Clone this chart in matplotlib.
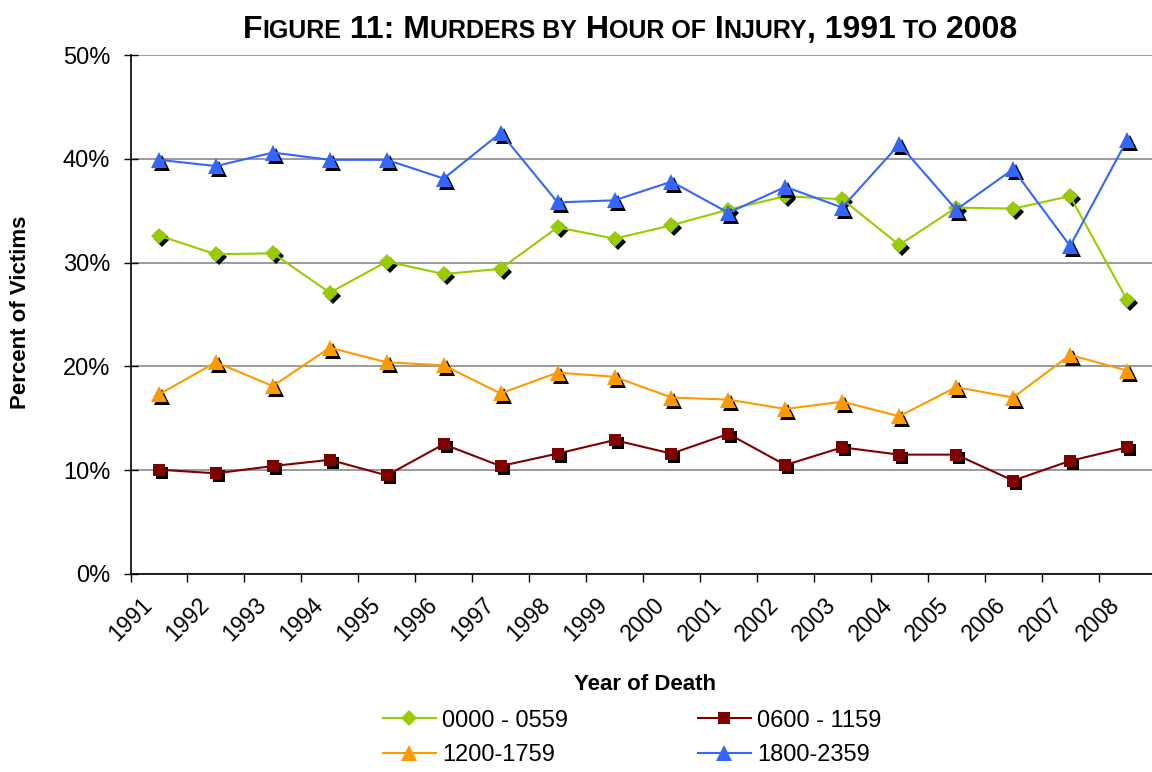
"""Figure 11: murders by hour of injury, 1991 to 2008."""

import matplotlib
matplotlib.use("Agg")
import matplotlib.pyplot as plt
from matplotlib import font_manager
from matplotlib.ticker import FuncFormatter, FixedLocator
from matplotlib.transforms import offset_copy


YEARS = [str(y) for y in range(1991, 2009)]
LABELS = ["0000 - 0559", "0600 - 1159", "1200-1759", "1800-2359"]
EARLY = [32.6, 30.8, 30.9, 27.1, 30.1, 28.9, 29.4, 33.4, 32.3, 33.6, 35.1, 36.4, 36.1, 31.7, 35.3, 35.2, 36.4, 26.4]
MORNING = [10.05, 9.7, 10.4, 11.0, 9.5, 12.5, 10.4, 11.6, 12.9, 11.6, 13.5, 10.5, 12.2, 11.5, 11.5, 9.0, 10.9, 12.2]
AFTERNOON = [17.3, 20.4, 18.1, 21.8, 20.4, 20.1, 17.4, 19.4, 19.0, 17.0, 16.8, 15.9, 16.6, 15.2, 18.0, 17.0, 21.1, 19.6]
EVENING = [39.9, 39.3, 40.6, 39.9, 39.9, 38.1, 42.5, 35.8, 36.0, 37.8, 34.8, 37.3, 35.3, 41.4, 35.1, 39.0, 31.6, 41.8]
Y_TICKS = [0, 10, 20, 30, 40, 50]

SERIES = [
    (EARLY, "#99CC00", "D", 8.0),
    (MORNING, "#800000", "s", 8.8),
    (AFTERNOON, "#FF9900", "^", 11.5),
    (EVENING, "#3366FF", "^", 11.5),
]

BASE_FONT = "Liberation Sans"
available = {f.name for f in font_manager.fontManager.ttflist}
TITLE_FONT = "Liberation Sans Narrow" if "Liberation Sans Narrow" in available else BASE_FONT

plt.rcParams["font.family"] = [BASE_FONT, "DejaVu Sans"]


def small_caps_title(fig, pieces, y, big, small):
    renderer = fig.canvas.get_renderer()
    texts = []
    for txt, is_big in pieces:
        t = fig.text(0, y, txt, fontsize=big if is_big else small, fontweight="bold",
                     family=TITLE_FONT, ha="left", va="baseline")
        texts.append(t)
    widths = [t.get_window_extent(renderer).width for t in texts]
    total = sum(widths)
    fig_w = fig.get_figwidth() * fig.dpi
    x = 630 - total / 2
    for t, w in zip(texts, widths):
        t.set_x(x / fig_w)
        x += w


def main() -> None:
    fig = plt.figure(figsize=(11.52, 7.72), dpi=100)
    ax = fig.add_axes([130.5 / 1152, 1 - 574 / 772, 1025 / 1152, 519 / 772])
    xs = [i + 0.5 for i in range(len(YEARS))]

    shadow = offset_copy(ax.transData, fig=fig, x=3, y=-3, units="dots")
    handles = []
    for k, (vals, color, marker, ms) in enumerate(SERIES):
        ax.plot(xs, vals, linestyle="none", marker=marker, markersize=ms, color="black",
                markeredgewidth=0, transform=shadow, zorder=3 + k, clip_on=False)
        (h,) = ax.plot(xs, vals, color=color, linewidth=1.5, marker=marker, markersize=ms,
                       markeredgewidth=0, zorder=3.5 + k, clip_on=False, label=LABELS[k])
        handles.append(h)

    ax.set_xlim(0, 18)
    ax.set_ylim(0, 50)
    ax.xaxis.set_major_locator(FixedLocator(list(range(len(YEARS)))))
    ax.set_xticklabels(YEARS, rotation=45, ha="center", va="top", fontsize=16.5)
    ax.set_yticks(Y_TICKS)
    ax.yaxis.set_major_formatter(FuncFormatter(lambda v, _: f"{v:.0f}%"))
    ax.tick_params(axis="y", direction="inout", length=10, width=1, labelsize=17, pad=9.5)
    ax.tick_params(axis="x", direction="out", length=6, width=1, pad=8)
    ax.grid(axis="y", color="#808080", linewidth=1.1)
    ax.set_axisbelow(True)
    for side in ("top", "right"):
        ax.spines[side].set_visible(False)
    for side in ("left", "bottom"):
        ax.spines[side].set_linewidth(1.2)

    ax.set_xlabel("Year of Death", fontsize=16, fontweight="bold")
    ax.xaxis.set_label_coords(0.502, -0.193)
    ax.set_ylabel("Percent of Victims", fontsize=16, fontweight="bold")
    ax.yaxis.set_label_coords(-0.097, 0.505)

    order = [0, 2, 1, 3]
    fig.legend([handles[i] for i in order], [LABELS[i] for i in order], ncol=2, loc="center",
               bbox_to_anchor=(632 / 1152, 1 - 738 / 772), frameon=False, fontsize=17,
               handlelength=2.25, handletextpad=0.25, columnspacing=5.5, labelspacing=0.55)

    pieces = [("F", True), ("IGURE", False), (" 11: M", True), ("URDERS BY", False), (" H", True),
              ("OUR OF", False), (" I", True), ("NJURY", False), (", 1991", True), (" TO", False),
              (" 2008", True)]
    small_caps_title(fig, pieces, 1 - 38 / 772, 23, 18)

    fig.savefig("out.png", dpi=100)


if __name__ == "__main__":
    main()
